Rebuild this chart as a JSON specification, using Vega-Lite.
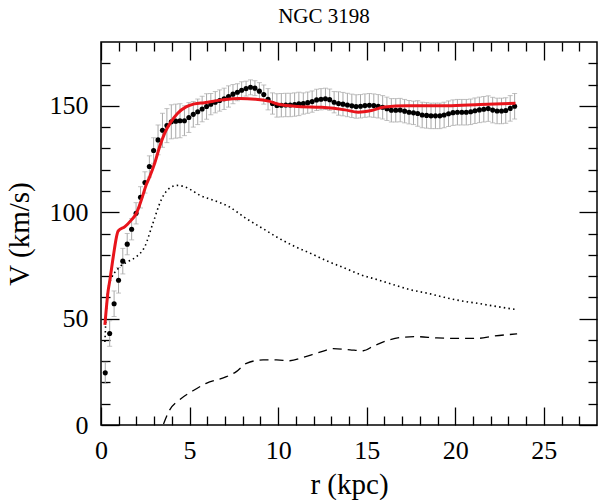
{
  "$schema": "https://vega.github.io/schema/vega-lite/v6.json",
  "width": 496,
  "height": 383,
  "autosize": "none",
  "padding": {"left": 101, "top": 42, "right": 3, "bottom": 75},
  "background": "white",
  "title": {
    "text": "NGC 3198",
    "font": "Liberation Serif",
    "fontSize": 21,
    "fontWeight": "normal",
    "color": "black",
    "anchor": "middle",
    "dx": -25,
    "offset": 14
  },
  "config": {
    "font": "Liberation Serif",
    "view": {"stroke": "black", "strokeWidth": 1.5},
    "axis": {
      "domain": false,
      "grid": false,
      "tickColor": "black",
      "tickWidth": 1.3,
      "labelFont": "Liberation Serif",
      "labelFontSize": 26,
      "labelColor": "black",
      "labelFlush": false,
      "labelOverlap": false,
      "labelBound": false,
      "titleFont": "Liberation Serif",
      "titleFontSize": 29,
      "titleFontWeight": "normal",
      "titleColor": "black"
    }
  },
  "datasets": {
    "obs": [
      {"r": 0.24, "v": 24.5, "e": 5}, {"r": 0.49, "v": 43, "e": 6}, {"r": 0.74, "v": 57, "e": 6},
      {"r": 0.99, "v": 68, "e": 6}, {"r": 1.23, "v": 77, "e": 6}, {"r": 1.48, "v": 85, "e": 5},
      {"r": 1.73, "v": 92, "e": 5}, {"r": 1.98, "v": 99.5, "e": 5}, {"r": 2.23, "v": 107, "e": 5},
      {"r": 2.48, "v": 114, "e": 5}, {"r": 2.73, "v": 121.5, "e": 5}, {"r": 2.97, "v": 129, "e": 6},
      {"r": 3.22, "v": 134, "e": 7}, {"r": 3.47, "v": 138.5, "e": 8}, {"r": 3.72, "v": 140.7, "e": 8},
      {"r": 3.97, "v": 142.5, "e": 8}, {"r": 4.22, "v": 142.8, "e": 8}, {"r": 4.46, "v": 143, "e": 8},
      {"r": 4.71, "v": 143, "e": 7}, {"r": 4.96, "v": 144.5, "e": 7}, {"r": 5.21, "v": 146, "e": 6},
      {"r": 5.46, "v": 147.2, "e": 6}, {"r": 5.71, "v": 148.5, "e": 6}, {"r": 5.96, "v": 149.7, "e": 6},
      {"r": 6.2, "v": 150.8, "e": 5}, {"r": 6.45, "v": 151.7, "e": 5}, {"r": 6.7, "v": 152.5, "e": 5},
      {"r": 6.95, "v": 153.3, "e": 5}, {"r": 7.2, "v": 154.4, "e": 5}, {"r": 7.45, "v": 155.5, "e": 4.5},
      {"r": 7.7, "v": 156.4, "e": 4}, {"r": 7.94, "v": 157.3, "e": 4}, {"r": 8.19, "v": 158.1, "e": 3.5},
      {"r": 8.44, "v": 158.7, "e": 3.5}, {"r": 8.69, "v": 158.3, "e": 3.5}, {"r": 8.94, "v": 156.9, "e": 4},
      {"r": 9.19, "v": 155.3, "e": 4.5}, {"r": 9.43, "v": 153.1, "e": 5}, {"r": 9.68, "v": 151.1, "e": 5},
      {"r": 9.93, "v": 150.2, "e": 5.5}, {"r": 10.18, "v": 150.3, "e": 5.5}, {"r": 10.43, "v": 150.4, "e": 5.5},
      {"r": 10.68, "v": 150.4, "e": 5.5}, {"r": 10.93, "v": 150.6, "e": 5.5}, {"r": 11.17, "v": 150.9, "e": 5.5},
      {"r": 11.42, "v": 151.1, "e": 5}, {"r": 11.67, "v": 151.5, "e": 5}, {"r": 11.92, "v": 152, "e": 5},
      {"r": 12.17, "v": 152.8, "e": 5}, {"r": 12.42, "v": 153.1, "e": 5}, {"r": 12.67, "v": 153.3, "e": 5},
      {"r": 12.91, "v": 152.9, "e": 5}, {"r": 13.16, "v": 151.7, "e": 5}, {"r": 13.41, "v": 151.1, "e": 5.5},
      {"r": 13.66, "v": 150.8, "e": 5.5}, {"r": 13.91, "v": 150.4, "e": 5.5}, {"r": 14.16, "v": 150, "e": 5.5},
      {"r": 14.4, "v": 149.7, "e": 5.5}, {"r": 14.65, "v": 149.8, "e": 5.5}, {"r": 14.9, "v": 150.1, "e": 5.5},
      {"r": 15.15, "v": 150.3, "e": 5.5}, {"r": 15.4, "v": 150.1, "e": 5.5}, {"r": 15.65, "v": 149.8, "e": 5.5},
      {"r": 15.9, "v": 149.3, "e": 5.5}, {"r": 16.14, "v": 148.6, "e": 5.5}, {"r": 16.39, "v": 147.9, "e": 5.5},
      {"r": 16.64, "v": 147.9, "e": 5.5}, {"r": 16.89, "v": 148, "e": 5.5}, {"r": 17.14, "v": 147.5, "e": 5.5},
      {"r": 17.39, "v": 147, "e": 5.5}, {"r": 17.64, "v": 146.7, "e": 5.5}, {"r": 17.88, "v": 146.4, "e": 6},
      {"r": 18.13, "v": 145.7, "e": 6}, {"r": 18.38, "v": 145.5, "e": 6}, {"r": 18.63, "v": 145.3, "e": 6},
      {"r": 18.88, "v": 145.3, "e": 6}, {"r": 19.13, "v": 145.3, "e": 6}, {"r": 19.37, "v": 145.7, "e": 6},
      {"r": 19.62, "v": 146.3, "e": 6}, {"r": 19.87, "v": 146.8, "e": 6}, {"r": 20.12, "v": 147, "e": 6},
      {"r": 20.37, "v": 147, "e": 6}, {"r": 20.62, "v": 147, "e": 6}, {"r": 20.87, "v": 147.2, "e": 6},
      {"r": 21.11, "v": 147.7, "e": 6}, {"r": 21.36, "v": 148.1, "e": 6}, {"r": 21.61, "v": 148.4, "e": 6},
      {"r": 21.86, "v": 148.7, "e": 6}, {"r": 22.11, "v": 148, "e": 6}, {"r": 22.36, "v": 147.6, "e": 6},
      {"r": 22.61, "v": 147.6, "e": 6}, {"r": 22.85, "v": 147.8, "e": 6}, {"r": 23.1, "v": 148.8, "e": 6},
      {"r": 23.35, "v": 149.8, "e": 6}
    ],
    "total": [
      {"r": 0.22, "v": 47}, {"r": 0.41, "v": 63.5}, {"r": 0.5, "v": 68}, {"r": 0.69, "v": 79},
      {"r": 0.97, "v": 91.2}, {"r": 1.35, "v": 93.2}, {"r": 1.72, "v": 96.4}, {"r": 2.0, "v": 99.5},
      {"r": 2.28, "v": 105.8}, {"r": 2.56, "v": 113}, {"r": 2.75, "v": 116.7}, {"r": 3.03, "v": 123},
      {"r": 3.31, "v": 130.8}, {"r": 3.59, "v": 137.1}, {"r": 3.96, "v": 142.6}, {"r": 4.33, "v": 146.5},
      {"r": 4.8, "v": 149.5}, {"r": 5.27, "v": 150.9}, {"r": 5.83, "v": 151.5}, {"r": 6.86, "v": 152.8},
      {"r": 7.8, "v": 153.4}, {"r": 8.73, "v": 153.1}, {"r": 9.47, "v": 152.2}, {"r": 10.1, "v": 150.6},
      {"r": 11.15, "v": 149.7}, {"r": 12.46, "v": 149.3}, {"r": 13.77, "v": 148.1}, {"r": 14.52, "v": 147},
      {"r": 15.27, "v": 147.8}, {"r": 16.0, "v": 149.4}, {"r": 17.3, "v": 150}, {"r": 19.56, "v": 150},
      {"r": 21.4, "v": 150.6}, {"r": 23.4, "v": 151.2}
    ],
    "disk": [
      {"r": 0.22, "v": 39}, {"r": 0.41, "v": 65}, {"r": 1.07, "v": 74.4}, {"r": 1.53, "v": 76.8},
      {"r": 2.0, "v": 79.1}, {"r": 2.47, "v": 83.8}, {"r": 2.93, "v": 94.8}, {"r": 3.4, "v": 105.8},
      {"r": 3.96, "v": 111.8}, {"r": 4.3, "v": 112.6}, {"r": 4.7, "v": 112}, {"r": 5.08, "v": 110.5},
      {"r": 5.55, "v": 108.1}, {"r": 6.3, "v": 105.8}, {"r": 7.23, "v": 102.6}, {"r": 8.17, "v": 97.2},
      {"r": 9.1, "v": 92.5}, {"r": 10.03, "v": 87.8}, {"r": 10.97, "v": 83.8}, {"r": 11.9, "v": 80.4},
      {"r": 12.84, "v": 76.8}, {"r": 13.77, "v": 73.7}, {"r": 14.7, "v": 70.5}, {"r": 15.64, "v": 68.2},
      {"r": 16.57, "v": 65.8}, {"r": 17.5, "v": 63.5}, {"r": 18.44, "v": 61.9}, {"r": 19.38, "v": 60},
      {"r": 20.31, "v": 58.4}, {"r": 21.24, "v": 57.2}, {"r": 22.18, "v": 55.9}, {"r": 23.4, "v": 54.3}
    ],
    "gas": [
      {"r": 3.53, "v": 0.5}, {"r": 3.87, "v": 7}, {"r": 4.43, "v": 11.8}, {"r": 5.19, "v": 16.1},
      {"r": 5.94, "v": 19.6}, {"r": 7.08, "v": 22.7}, {"r": 7.64, "v": 25.1}, {"r": 8.21, "v": 29},
      {"r": 9.15, "v": 30.6}, {"r": 9.91, "v": 30.6}, {"r": 10.66, "v": 30.2}, {"r": 11.42, "v": 31.8},
      {"r": 12.36, "v": 34.2}, {"r": 13.11, "v": 35.9}, {"r": 14.06, "v": 35.3}, {"r": 14.81, "v": 34.9},
      {"r": 15.38, "v": 37.1}, {"r": 16.13, "v": 39.6}, {"r": 16.89, "v": 41.1}, {"r": 17.83, "v": 41.5},
      {"r": 18.96, "v": 40.9}, {"r": 20.28, "v": 40.7}, {"r": 21.23, "v": 40.7}, {"r": 22.17, "v": 41.8},
      {"r": 23.49, "v": 42.8}
    ]
  },
  "resolve": {"axis": {"x": "independent", "y": "independent"}},
  "layer": [
    {
      "data": {"name": "obs"},
      "mark": {"type": "errorbar", "color": "#a8a8a8", "thickness": 1, "ticks": {"size": 5, "thickness": 1, "color": "#a8a8a8"}},
      "encoding": {
        "x": {
          "field": "r", "type": "quantitative",
          "scale": {"domain": [0, 28], "nice": false, "zero": false},
          "axis": {"orient": "bottom", "values": [0, 5, 10, 15, 20, 25], "tickSize": -18, "labelPadding": 30, "title": "r (kpc)", "titlePadding": 7}
        },
        "y": {
          "field": "v", "type": "quantitative",
          "scale": {"domain": [0, 180], "nice": false, "zero": false},
          "axis": {"orient": "left", "values": [0, 50, 100, 150], "tickSize": -18, "labelPadding": 31, "title": "V (km/s)", "titlePadding": 15}
        },
        "yError": {"field": "e"}
      }
    },
    {
      "data": {"name": "obs"},
      "mark": {"type": "circle", "color": "black", "size": 26, "opacity": 1},
      "encoding": {
        "x": {
          "field": "r", "type": "quantitative",
          "scale": {"domain": [0, 28], "nice": false, "zero": false},
          "axis": {"orient": "bottom", "values": [1, 2, 3, 4, 6, 7, 8, 9, 11, 12, 13, 14, 16, 17, 18, 19, 21, 22, 23, 24, 26, 27], "tickSize": -9, "labels": false, "title": null}
        },
        "y": {
          "field": "v", "type": "quantitative",
          "scale": {"domain": [0, 180], "nice": false, "zero": false},
          "axis": {"orient": "left", "values": [10, 20, 30, 40, 60, 70, 80, 90, 110, 120, 130, 140, 160, 170], "tickSize": -9, "labels": false, "title": null}
        }
      }
    },
    {
      "data": {"name": "disk"},
      "mark": {"type": "line", "color": "black", "strokeWidth": 1.6, "strokeDash": [1.5, 3.2], "interpolate": "monotone"},
      "encoding": {
        "x": {
          "field": "r", "type": "quantitative",
          "scale": {"domain": [0, 28], "nice": false, "zero": false},
          "axis": {"orient": "top", "values": [0, 5, 10, 15, 20, 25], "tickSize": -18, "labels": false, "title": null}
        },
        "y": {
          "field": "v", "type": "quantitative",
          "scale": {"domain": [0, 180], "nice": false, "zero": false},
          "axis": {"orient": "right", "values": [0, 50, 100, 150], "tickSize": -18, "labels": false, "title": null}
        }
      }
    },
    {
      "data": {"name": "gas"},
      "mark": {"type": "line", "color": "black", "strokeWidth": 1.3, "strokeDash": [9, 6], "interpolate": "monotone"},
      "encoding": {
        "x": {
          "field": "r", "type": "quantitative",
          "scale": {"domain": [0, 28], "nice": false, "zero": false},
          "axis": {"orient": "top", "values": [1, 2, 3, 4, 6, 7, 8, 9, 11, 12, 13, 14, 16, 17, 18, 19, 21, 22, 23, 24, 26, 27], "tickSize": -9, "labels": false, "title": null}
        },
        "y": {
          "field": "v", "type": "quantitative",
          "scale": {"domain": [0, 180], "nice": false, "zero": false},
          "axis": {"orient": "right", "values": [10, 20, 30, 40, 60, 70, 80, 90, 110, 120, 130, 140, 160, 170], "tickSize": -9, "labels": false, "title": null}
        }
      }
    },
    {
      "data": {"name": "total"},
      "mark": {"type": "line", "color": "#e8141b", "strokeWidth": 3, "interpolate": "monotone"},
      "encoding": {
        "x": {"field": "r", "type": "quantitative", "scale": {"domain": [0, 28], "nice": false, "zero": false}, "axis": null},
        "y": {"field": "v", "type": "quantitative", "scale": {"domain": [0, 180], "nice": false, "zero": false}, "axis": null}
      }
    }
  ]
}
